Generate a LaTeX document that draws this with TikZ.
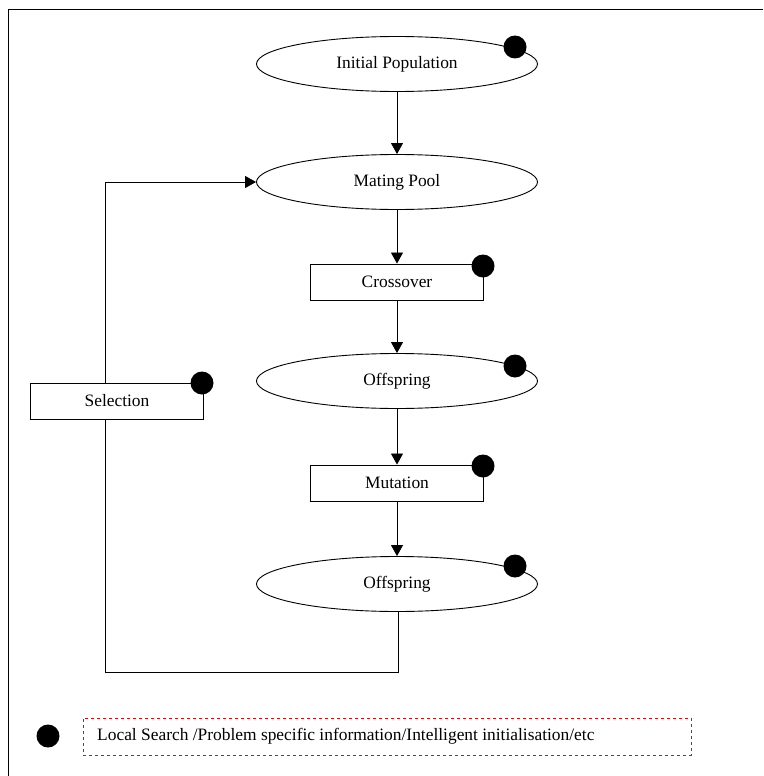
\documentclass[tikz,border=0pt]{standalone}
\usepackage{fontspec}
\setmainfont{Liberation Serif}
\usetikzlibrary{arrows.meta,shapes.geometric}
\begin{document}
\begin{tikzpicture}[x=1pt,y=-1pt,
  txt/.style={font=\fontsize{17.4}{20}\selectfont},
  ell/.style={draw,ellipse,minimum width=281pt,minimum height=55pt,inner sep=0pt,line width=0.9pt,txt},
  box/.style={draw,rectangle,minimum width=173pt,minimum height=36pt,inner sep=0pt,line width=0.9pt,txt},
  dot/.style={circle,fill=black,minimum size=23pt,inner sep=0pt},
  arr/.style={-{Triangle[length=11pt,width=12pt]},line width=0.8pt},
  ln/.style={line width=0.8pt}]
\useasboundingbox (0,0) rectangle (763,776);
\draw[line width=1pt] (8,776) -- (8,10) -- (763,10);
\node[ell] (ip) at (397,64) {Initial Population};
\node[ell] (mp) at (397,182) {Mating Pool};
\node[box] (co) at (397,282) {Crossover};
\node[ell] (o1) at (397,381) {Offspring};
\node[box] (sel) at (117,401) {Selection};
\node[box] (mu) at (397,483) {Mutation};
\node[ell] (o2) at (397,584) {Offspring};
\node[dot] (d1) at (515,47) {};
\node[dot] (d2) at (483,266) {};
\node[dot] (d3) at (515,366) {};
\node[dot] (d4) at (202,383) {};
\node[dot] (d5) at (483,466) {};
\node[dot] (d6) at (515,566) {};
\node[dot] (d7) at (48,736) {};
\node[draw=red,dashed,line width=0.8pt,minimum width=608pt,minimum height=37pt,inner sep=0pt] (leg) at (387,736.5) {};
\node[anchor=west,txt,inner sep=0pt] (legt) at (97,736) {Local Search /Problem specific information/Intelligent initialisation/etc};
\coordinate (c1) at (105,182);
\coordinate (c2) at (105,672);
\coordinate (c3) at (398,672);
\draw[arr] (ip) -- (mp);
\draw[arr] (mp) -- (co);
\draw[arr] (co) -- (o1);
\draw[arr] (o1) -- (mu);
\draw[arr] (mu) -- (o2);
\draw[ln] (sel.north -| c1) -- (c1);
\draw[arr] (c1) -- (mp.west);
\draw[ln] (o2.south -| c3) -- (c3) -- (c2) -- (sel.south -| c2);
\end{tikzpicture}
\end{document}
